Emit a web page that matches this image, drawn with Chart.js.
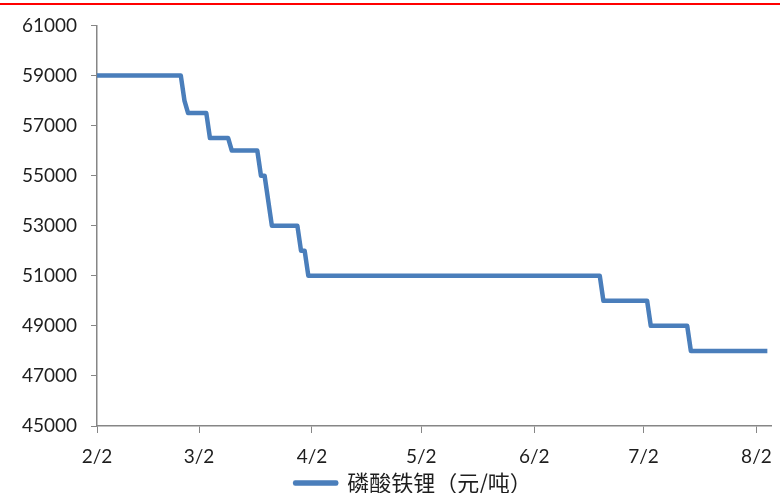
<!DOCTYPE html>
<html>
<head>
<meta charset="utf-8">
<script src="https://cdn.jsdelivr.net/npm/chart.js@4"></script>
<style>
  html, body { margin: 0; padding: 0; background: #fff; }
  #wrap { position: relative; width: 782px; height: 493px; }
  #topline { position: absolute; left: 0; top: 3px; width: 780px; height: 2px; background: #f00; }
</style>
</head>
<body>
<div id="wrap">
  <div id="topline"></div>
  <canvas id="precio" width="782" height="493"></canvas>
</div>
<script>
// dias desde el 2/2 y precio en cada punto de cambio
const dias = [0, 23, 24, 25, 30, 31, 36, 37, 44, 45, 46, 48, 55, 56, 57, 58, 138, 139, 151, 152, 162, 163, 184];
const precios = [59000, 59000, 58000, 57500, 57500, 56500, 56500, 56000, 56000, 55000, 55000, 53000, 53000, 52000, 52000, 51000, 51000, 50000, 50000, 49000, 49000, 48000, 48000];

// marcas del eje x (inicio de cada mes)
const diasMes = [0, 28, 59, 89, 120, 150, 181];
const etiquetasMes = ['2/2', '3/2', '4/2', '5/2', '6/2', '7/2', '8/2'];

const serie = '磷酸铁锂（元/吨）';
const colorLinea = '#4A7EBB';
const colorEje = '#868686';
const colorTexto = '#1e1e1e';

let puntos = dias.map(function(d, i) {
    return { x: d, y: precios[i] };
});

// la leyenda se centra bajo el area de la grafica
const moverLeyenda = {
    id: 'moverLeyenda',
    afterLayout: function(chart) {
        chart.legend.left = 56;
        chart.legend.right = 771;
    }
};

let grafica = new Chart(document.getElementById('precio'), {
    type: 'line',
    data: {
        datasets: [{
            label: serie,
            data: puntos,
            borderColor: colorLinea,
            backgroundColor: colorLinea,
            borderWidth: 4.5,
            borderJoinStyle: 'round',
            pointRadius: 0,
            tension: 0,
            fill: false
        }]
    },
    plugins: [moverLeyenda],
    options: {
        responsive: false,
        animation: false,
        layout: {
            padding: { left: 0, right: 11, top: 22, bottom: -11 }
        },
        plugins: {
            tooltip: { enabled: false },
            legend: {
                position: 'bottom',
                align: 'center',
                labels: {
                    boxWidth: 41,
                    boxHeight: 1,
                    padding: 0,
                    color: colorTexto,
                    font: { family: '"Noto Sans CJK SC", "Noto Sans", sans-serif', size: 22 }
                }
            }
        },
        scales: {
            x: {
                type: 'linear',
                min: 0,
                max: 185,
                afterBuildTicks: function(eje) {
                    eje.ticks = diasMes.map(function(v) { return { value: v }; });
                },
                afterFit: function(eje) {
                    eje.height = 46;
                    eje.paddingLeft = 0;
                    eje.paddingRight = 0;
                },
                grid: {
                    display: true,
                    drawOnChartArea: false,
                    drawTicks: true,
                    tickLength: 7,
                    color: colorEje
                },
                border: { display: true, color: colorEje, width: 1.5 },
                ticks: {
                    autoSkip: false,
                    maxRotation: 0,
                    padding: 12,
                    color: colorTexto,
                    font: { family: 'Lato, sans-serif', size: 19 },
                    callback: function(v) {
                        let i = diasMes.indexOf(v);
                        return i >= 0 ? etiquetasMes[i] : '';
                    }
                }
            },
            y: {
                min: 45000,
                max: 61000,
                afterFit: function(eje) { eje.width = 97; },
                grid: {
                    display: true,
                    drawOnChartArea: false,
                    drawTicks: true,
                    tickLength: 6,
                    color: colorEje
                },
                border: { display: true, color: colorEje, width: 1.5 },
                ticks: {
                    stepSize: 2000,
                    padding: 14,
                    color: colorTexto,
                    font: { family: 'Lato, sans-serif', size: 19 },
                    callback: function(v) { return String(v); }
                }
            }
        }
    }
});
</script>
</body>
</html>
